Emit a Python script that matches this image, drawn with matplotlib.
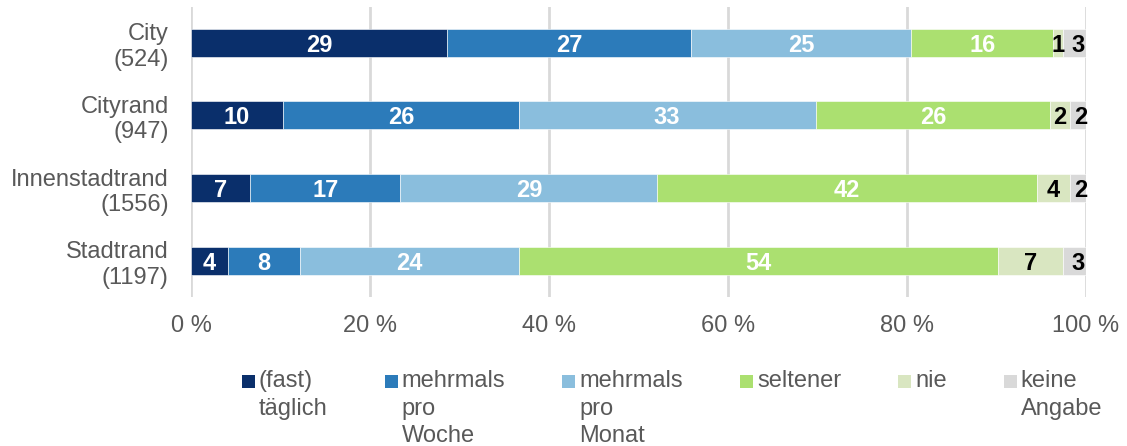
import matplotlib
matplotlib.use("Agg")
import matplotlib.pyplot as plt
from matplotlib.patches import Rectangle
import numpy as np

plt.rcParams['font.family'] = ['Liberation Sans', 'DejaVu Sans']

categories = ["City\n(524)", "Cityrand\n(947)", "Innenstadtrand\n(1556)", "Stadtrand\n(1197)"]
series_names = ["(fast)\ntäglich", "mehrmals\npro\nWoche", "mehrmals\npro\nMonat", "seltener", "nie", "keine\nAngabe"]

# segment widths in percent
taeglich = [28.6, 10.3, 6.6, 4.1]
woche = [27.3, 26.3, 16.8, 8.1]
monat = [24.6, 33.2, 28.7, 24.4]
seltener = [15.8, 26.2, 42.4, 53.6]
nie = [1.1, 2.2, 3.7, 7.2]
keine = [2.6, 1.8, 1.8, 2.6]

# printed (rounded) labels
lab_taeglich = [29, 10, 7, 4]
lab_woche = [27, 26, 17, 8]
lab_monat = [25, 33, 29, 24]
lab_seltener = [16, 26, 42, 54]
lab_nie = [1, 2, 4, 7]
lab_keine = [3, 2, 2, 3]

xticks = [0, 20, 40, 60, 80, 100]
xticklabels = ["0 %", "20 %", "40 %", "60 %", "80 %", "100 %"]

colors = ["#0a2f6b", "#2c7bba", "#8abedd", "#abe070", "#d9e6c1", "#d9d9d9"]
label_colors = ["white", "white", "white", "white", "black", "black"]
text_gray = "#595959"
FS = 17

W, H = 1127, 446
fig = plt.figure(figsize=(W / 100, H / 100), dpi=100)
ax = fig.add_axes([191 / W, 1 - 297 / H, 895 / W, (297 - 6.5) / H])

series = [taeglich, woche, monat, seltener, nie, keine]
labels = [lab_taeglich, lab_woche, lab_monat, lab_seltener, lab_nie, lab_keine]
y = np.arange(len(categories))
left = np.zeros(len(categories))
for k, (vals, labs, col, lcol) in enumerate(zip(series, labels, colors, label_colors)):
    vals = np.array(vals)
    ax.barh(y, vals, left=left, height=0.385, color=col, edgecolor="white",
            linewidth=0.4, zorder=3)
    for yi, (l, v, lab) in enumerate(zip(left, vals, labs)):
        xpos = l + v / 2
        if k == len(series) - 1:
            xpos = l + v * 0.65
        ax.text(xpos, yi, str(lab), ha="center", va="center_baseline",
                color=lcol, fontsize=FS, fontweight="bold", zorder=4)
    left = left + vals

ax.set_xlim(0, 100)
ax.set_ylim(len(categories) - 0.5, -0.5)
ax.set_yticks(y)
ax.set_yticklabels(categories, fontsize=FS, color=text_gray)
ax.set_xticks(xticks)
ax.set_xticklabels(xticklabels, fontsize=FS, color=text_gray)
ax.tick_params(axis="both", length=0)
ax.tick_params(axis="x", pad=13)
ax.tick_params(axis="y", pad=16)
for s in ax.spines.values():
    s.set_visible(False)
ax.grid(axis="x", color="#d9d9d9", linewidth=2, zorder=0)
ax.set_axisbelow(True)

# legend, laid out manually (handles aligned with first line)
def fx(px):
    return px / W

def fy(py):
    return 1 - py / H

renderer = fig.canvas.get_renderer()
x = 242.0
sq = 13.0
for name, col in zip(series_names, colors):
    fig.patches.append(Rectangle((fx(x), fy(388)), sq / W, sq / H,
                                 transform=fig.transFigure, facecolor=col,
                                 edgecolor="none"))
    t = fig.text(fx(x + sq + 4), fy(370), name, ha="left", va="top",
                 fontsize=FS, color=text_gray, linespacing=1.33)
    w = t.get_window_extent(renderer).width
    x = x + sq + 4 + w + 57

fig.savefig("out.png", dpi=100)
